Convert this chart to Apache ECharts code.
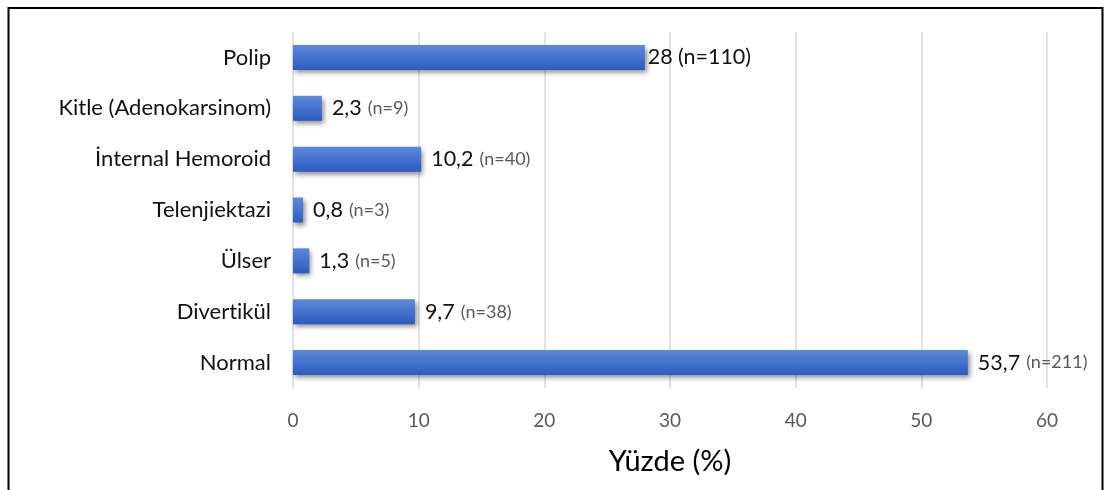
<!DOCTYPE html>
<html>
<head>
<meta charset="utf-8">
<script src="https://cdn.jsdelivr.net/npm/echarts@6/dist/echarts.min.js"></script>
<style>
  html, body { margin: 0; padding: 0; background: #fff; }
  #chart { width: 1105px; height: 490px; }
</style>
</head>
<body>
<div id="chart"></div>
<script>
// Endoscopic findings: share of patients (%) and patient counts
const categories = ['Polip', 'Kitle (Adenokarsinom)', 'İnternal Hemoroid', 'Telenjiektazi', 'Ülser', 'Divertikül', 'Normal'];
const percents = [28, 2.3, 10.2, 0.8, 1.3, 9.7, 53.7];
const counts = [110, 9, 40, 3, 5, 38, 211];
const xTicks = [0, 10, 20, 30, 40, 50, 60];
const axisTitle = 'Yüzde (%)';

const fontFamily = 'Lato, "Noto Sans", sans-serif';
const fmt = v => String(v).replace('.', ',');
// keep "t" and "i" as separate glyphs (Lato would otherwise join them)
const noLig = s => s.replace(/ti/g, 't\u200Ci');

const chart = echarts.init(document.getElementById('chart'), null, { renderer: 'canvas' });

const seriesData = percents.map((v, i) => {
  const item = { value: v };
  if (i === 0) {
    item.label = {
      distance: 3,
      formatter: () => `{a|${fmt(v)}} {c|(n=${counts[i]})}`
    };
  }
  return item;
});

chart.setOption({
  animation: false,
  textStyle: { fontFamily },
  graphic: [{
    type: 'polyline',
    shape: { points: [[8.5, 500], [8.5, 8], [1102.5, 8], [1102.5, 500]] },
    style: { stroke: '#000', lineWidth: 2, fill: null },
    silent: true
  }],
  grid: { left: 293, right: 58, top: 32, bottom: 102 },
  xAxis: {
    type: 'value',
    min: xTicks[0],
    max: xTicks[xTicks.length - 1],
    interval: 10,
    axisLine: { show: false },
    axisTick: { show: false },
    splitLine: { lineStyle: { color: '#d9d9d9', width: 1.5 } },
    axisLabel: { color: '#595959', fontSize: 19, margin: 23, fontFamily },
    name: axisTitle,
    nameLocation: 'middle',
    nameGap: 59,
    nameTextStyle: { color: '#000', fontSize: 29, fontFamily }
  },
  yAxis: {
    type: 'category',
    data: categories,
    inverse: true,
    axisLine: { show: false },
    axisTick: { show: false },
    axisLabel: { color: '#111', fontSize: 22, margin: 22, fontFamily, formatter: noLig }
  },
  series: [{
    type: 'bar',
    data: seriesData,
    barWidth: 25,
    itemStyle: {
      color: new echarts.graphic.LinearGradient(0, 0, 0, 1, [
        { offset: 0, color: '#5d89da' },
        { offset: 1, color: '#2b5cbf' }
      ]),
      shadowColor: 'rgba(0,0,0,0.45)',
      shadowBlur: 5,
      shadowOffsetX: 2,
      shadowOffsetY: 3
    },
    label: {
      show: true,
      position: 'right',
      distance: 10,
      formatter: p => `{a|${fmt(p.value)}} {b|(n=${counts[p.dataIndex]})}`,
      rich: {
        a: { color: '#111', fontSize: 21.5, fontFamily },
        b: { color: '#595959', fontSize: 18, fontFamily, padding: [0, 0, 0, 3] },
        c: { color: '#111', fontSize: 21.5, fontFamily, padding: [0, 0, 0, 2] }
      }
    }
  }]
});
</script>
</body>
</html>
